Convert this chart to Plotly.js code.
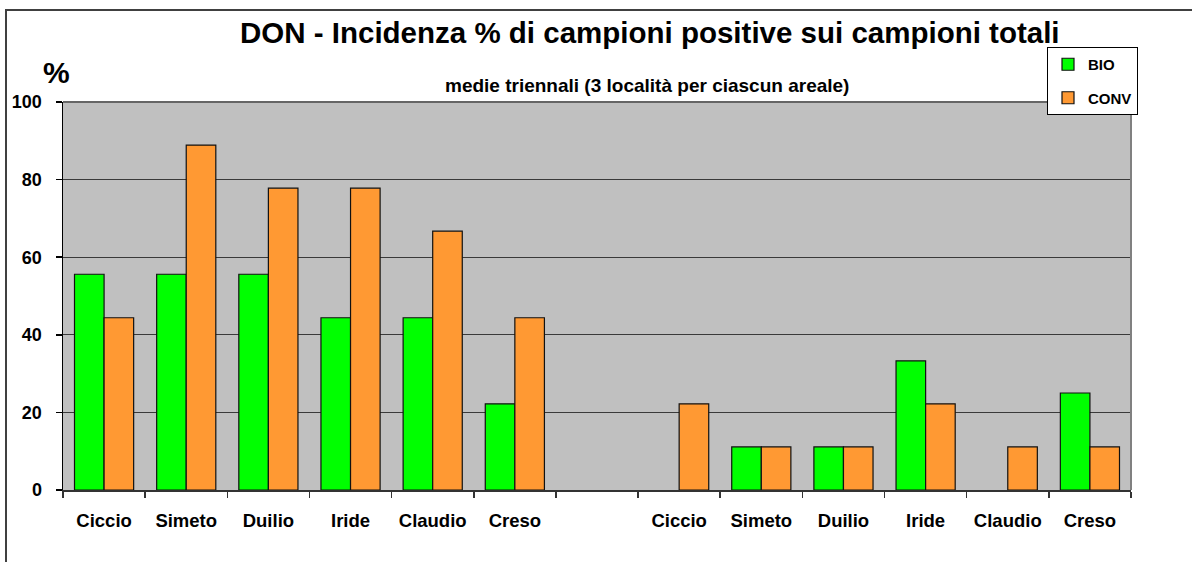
<!DOCTYPE html>
<html>
<head>
<meta charset="utf-8">
<script src="https://cdn.plot.ly/plotly-3.0.1.min.js"></script>
<style>html,body{margin:0;padding:0;background:#fff;}#chart{width:1192px;height:562px;}</style>
</head>
<body>
<div id="chart"></div>
<script>
// Categories (13 slots: 6 + empty gap + 6)
const tickLabels = ["Ciccio","Simeto","Duilio","Iride","Claudio","Creso","","Ciccio","Simeto","Duilio","Iride","Claudio","Creso"];
const positions = [0,1,2,3,4,5,6,7,8,9,10,11,12];
const bioValues  = [55.6, 55.6, 55.6, 44.4, 44.4, 22.2, null, 0, 11.1, 11.1, 33.3, 0, 25.0];
const convValues = [44.4, 88.9, 77.8, 77.8, 66.7, 44.4, null, 22.2, 11.1, 11.1, 22.2, 11.1, 11.1];
const boundaries = [-0.5,0.5,1.5,2.5,3.5,4.5,5.5,6.5,7.5,8.5,9.5,10.5,11.5,12.5];
const yTicks = [0,20,40,60,80,100];

const FONT = "Liberation Sans, Arial, sans-serif";
const outlineW = v => (v ? 1.2 : 0);

const traces = [
  {type:'bar', name:'BIO', x:positions, y:bioValues, legendgroup:'a',
   marker:{color:'#00FF00', line:{color:'#111', width:bioValues.map(outlineW)}}, hoverinfo:'y'},
  {type:'bar', name:'CONV', x:positions, y:convValues, legendgroup:'b',
   marker:{color:'#FF9933', line:{color:'#111', width:convValues.map(outlineW)}}, hoverinfo:'y'}
];

const layout = {
  width:1192, height:562,
  margin:{l:63, r:61, t:102, b:72, pad:0},
  paper_bgcolor:'#ffffff',
  plot_bgcolor:'#C0C0C0',
  barmode:'group',
  bargap:0.28,
  bargroupgap:0,
  font:{family:FONT, color:'#000'},
  showlegend:true,
  legend:{
    x:(1047-63)/1068, y:(490-47)/388, xanchor:'left', yanchor:'top',
    bordercolor:'#000', borderwidth:1, bgcolor:'#fff',
    font:{family:FONT, size:15, color:'#000', weight:'bold'},
    tracegroupgap:11, traceorder:'grouped', itemwidth:30
  },
  xaxis:{
    range:[-0.5,12.5], tickmode:'array', tickvals:positions, ticktext:tickLabels,
    ticks:'', showgrid:false, zeroline:false,
    showline:true, linecolor:'#333', linewidth:1.5,
    tickfont:{family:FONT, size:18.5, color:'#000', weight:'bold'},
    ticklabelstandoff:13,
    minor:{tickmode:'array', tickvals:boundaries, ticks:'outside', ticklen:6, tickcolor:'#333', tickwidth:1.5, showgrid:false}
  },
  yaxis:{
    range:[0,100], tickmode:'array', tickvals:yTicks,
    ticks:'outside', ticklen:6, tickcolor:'#000', tickwidth:1.5,
    showgrid:true, gridcolor:'#3a3a3a', gridwidth:1.2, zeroline:false,
    showline:true, linecolor:'#000', linewidth:1.5,
    tickfont:{family:FONT, size:18, color:'#000', weight:'bold'},
    ticklabelstandoff:10
  },
  shapes:[
    {type:'line', xref:'paper', yref:'paper', x0:1, x1:1, y0:0, y1:1, line:{color:'#808080', width:2}},
    {type:'line', xref:'paper', yref:'paper', x0:0, x1:1, y0:1, y1:1, line:{color:'#666', width:2}},
    {type:'rect', xref:'paper', yref:'paper', x0:(6-63)/1068, x1:1.3, y0:-0.5, y1:(490-10)/388, line:{color:'#404040', width:2}, fillcolor:'rgba(0,0,0,0)'}
  ],
  annotations:[
    {text:'DON - Incidenza % di campioni positive sui campioni totali', xref:'paper', yref:'paper',
     x:(650-63)/1068, y:(490-33)/388, xanchor:'center', yanchor:'middle', showarrow:false,
     font:{family:FONT, size:29.5, color:'#000', weight:'bold'}},
    {text:'medie triennali (3 località per ciascun areale)', xref:'paper', yref:'paper',
     x:(647-63)/1068, y:(490-86)/388, xanchor:'center', yanchor:'middle', showarrow:false,
     font:{family:FONT, size:19, color:'#000', weight:'bold'}},
    {text:'%', xref:'paper', yref:'paper',
     x:(56-63)/1068, y:(490-72)/388, xanchor:'center', yanchor:'middle', showarrow:false,
     font:{family:FONT, size:30, color:'#000', weight:'bold'}}
  ]
};

Plotly.newPlot('chart', traces, layout, {displayModeBar:false, staticPlot:true});
</script>
</body>
</html>
